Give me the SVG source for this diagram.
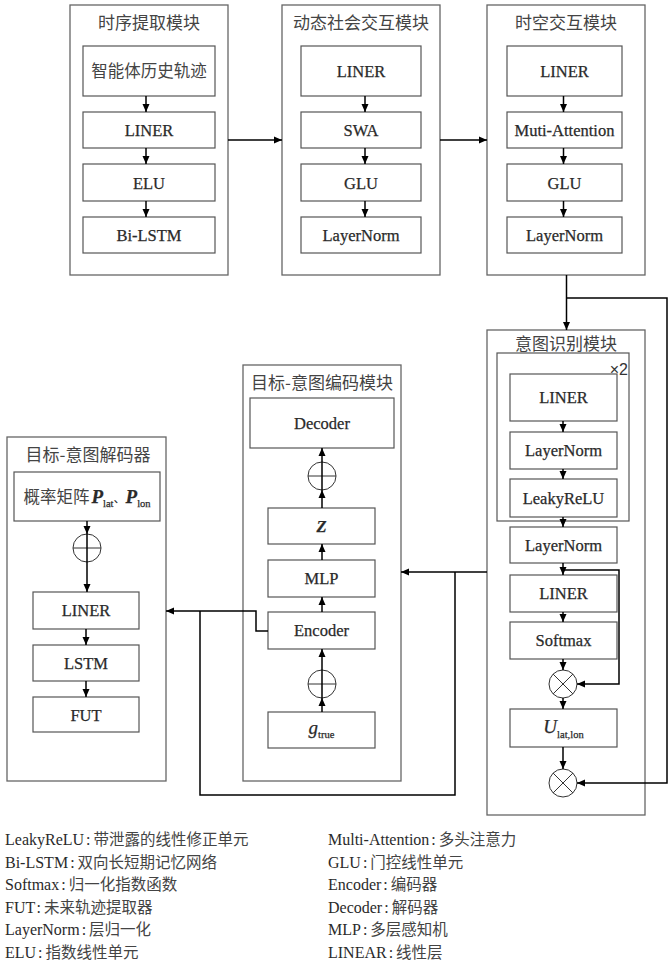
<svg xmlns="http://www.w3.org/2000/svg" width="669" height="963" viewBox="0 0 669 963">
<style>
.outer{fill:#fff;stroke:#666;stroke-width:1.3}
.box{fill:#fff;stroke:#555;stroke-width:1.2}
.t{font-family:"Liberation Serif","Noto Sans CJK SC",serif;font-size:16.5px;fill:#2a2a2a;stroke:#2a2a2a;stroke-width:0.25;text-anchor:middle}
.ti{font-family:"Noto Sans CJK SC","Liberation Sans",sans-serif;font-size:17px;fill:#444;text-anchor:middle}
.cn{font-family:"Noto Sans CJK SC",sans-serif;font-size:16.5px;fill:#444;stroke:none;text-anchor:middle}
.lg{font-family:"Liberation Serif","Noto Sans CJK SC",serif;font-size:16px;fill:#2a2a2a}
.lg tspan.c{font-family:"Noto Sans CJK SC",sans-serif;font-size:15.5px;fill:#444}
.con{fill:none;stroke:#000;stroke-width:1.5}
.op{fill:#fff;stroke:#333;stroke-width:1}
.opl{stroke:#333;stroke-width:1}
</style>
<defs>
<marker id="ah" markerUnits="userSpaceOnUse" markerWidth="8" markerHeight="8" refX="8" refY="4" orient="auto">
<path d="M0,0.5 L8,4 L0,7.5 z" fill="#000"/>
</marker>
</defs>

<g id="module-temporal">
<rect class="outer" x="70" y="5" width="158" height="270"/>
<text class="ti" x="149" y="29">时序提取模块</text>
<rect class="box" x="83" y="46" width="132" height="50"/>
<text class="cn" x="149" y="77">智能体历史轨迹</text>
<rect class="box" x="83" y="112" width="132" height="36"/>
<text class="t" x="149" y="136">LINER</text>
<rect class="box" x="83" y="164" width="132" height="37"/>
<text class="t" x="149" y="188.5">ELU</text>
<rect class="box" x="83" y="217" width="132" height="36"/>
<text class="t" x="149" y="241">Bi-LSTM</text>
</g>

<g id="module-social">
<rect class="outer" x="282" y="5" width="158" height="270"/>
<text class="ti" x="361" y="29">动态社会交互模块</text>
<rect class="box" x="301" y="46" width="120" height="50"/>
<text class="t" x="361" y="77">LINER</text>
<rect class="box" x="301" y="112" width="120" height="36"/>
<text class="t" x="361" y="136">SWA</text>
<rect class="box" x="301" y="164" width="120" height="37"/>
<text class="t" x="361" y="188.5">GLU</text>
<rect class="box" x="301" y="217" width="120" height="36"/>
<text class="t" x="361" y="241">LayerNorm</text>
</g>

<g id="module-spatiotemporal">
<rect class="outer" x="487" y="5" width="158" height="270"/>
<text class="ti" x="566" y="29">时空交互模块</text>
<rect class="box" x="507" y="46" width="115" height="50"/>
<text class="t" x="564.5" y="77">LINER</text>
<rect class="box" x="507" y="112" width="115" height="36"/>
<text class="t" x="564.5" y="136">Muti-Attention</text>
<rect class="box" x="507" y="164" width="115" height="37"/>
<text class="t" x="564.5" y="188.5">GLU</text>
<rect class="box" x="507" y="217" width="115" height="36"/>
<text class="t" x="564.5" y="241">LayerNorm</text>
</g>

<g id="module-intent">
<rect class="outer" x="487" y="330" width="158" height="485"/>
<text class="ti" x="566" y="350">意图识别模块</text>
<rect class="box" x="497" y="353" width="132" height="168" fill="none"/>
<text x="628" y="375" style="font-family:'Liberation Sans',sans-serif;font-size:16px;fill:#333;text-anchor:end">×2</text>
<rect class="box" x="510" y="374" width="107" height="47"/>
<text class="t" x="563.5" y="403">LINER</text>
<rect class="box" x="510" y="432" width="107" height="37"/>
<text class="t" x="563.5" y="456">LayerNorm</text>
<rect class="box" x="510" y="479" width="107" height="38"/>
<text class="t" x="563.5" y="503.5">LeakyReLU</text>
<rect class="box" x="510" y="527" width="107" height="36"/>
<text class="t" x="563.5" y="550.5">LayerNorm</text>
<rect class="box" x="510" y="575" width="107" height="37"/>
<text class="t" x="563.5" y="599">LINER</text>
<rect class="box" x="510" y="622" width="107" height="37"/>
<text class="t" x="563.5" y="646">Softmax</text>
<circle class="op" cx="563" cy="684" r="14"/>
<line class="opl" x1="553.1" y1="674.1" x2="572.9" y2="693.9"/>
<line class="opl" x1="572.9" y1="674.1" x2="553.1" y2="693.9"/>
<rect class="box" x="510" y="709" width="107" height="38"/>
<text class="t" x="563.5" y="733"><tspan style="font-style:italic;font-size:19px">U</tspan><tspan style="font-size:10.5px" dy="5">lat,lon</tspan></text>
<circle class="op" cx="563" cy="783" r="14"/>
<line class="opl" x1="553.1" y1="773.1" x2="572.9" y2="792.9"/>
<line class="opl" x1="572.9" y1="773.1" x2="553.1" y2="792.9"/>
</g>

<g id="module-goal-encoder">
<rect class="outer" x="243" y="365" width="158" height="416"/>
<text class="ti" x="322" y="389">目标-意图编码模块</text>
<rect class="box" x="250" y="398" width="144" height="50"/>
<text class="t" x="322" y="429">Decoder</text>
<circle class="op" cx="322" cy="476" r="14"/>
<line class="opl" x1="308" y1="476" x2="336" y2="476"/>
<rect class="box" x="268" y="508" width="107" height="36"/>
<text class="t" x="321.5" y="532" style="font-style:italic;font-weight:bold">Z</text>
<rect class="box" x="268" y="560" width="107" height="37"/>
<text class="t" x="321.5" y="584">MLP</text>
<rect class="box" x="268" y="612" width="107" height="37"/>
<text class="t" x="321.5" y="636">Encoder</text>
<circle class="op" cx="322" cy="684" r="14"/>
<line class="opl" x1="308" y1="684" x2="336" y2="684"/>
<rect class="box" x="268" y="712" width="107" height="36"/>
<text class="t" x="321.5" y="734"><tspan style="font-style:italic;font-size:19px">g</tspan><tspan style="font-size:10.5px" dy="4">true</tspan></text>
</g>

<g id="module-goal-decoder">
<rect class="outer" x="7" y="437" width="159" height="344"/>
<text class="ti" x="88" y="461">目标-意图解码器</text>
<rect class="box" x="14" y="472" width="146" height="49"/>
<text class="t" x="87" y="503"><tspan style="font-family:'Noto Sans CJK SC',sans-serif;fill:#444;stroke:none">概率矩阵</tspan><tspan style="font-style:italic;font-weight:bold;font-size:19px" dx="2">P</tspan><tspan style="font-size:10.5px" dy="4">lat</tspan><tspan style="font-family:'Noto Sans CJK SC',sans-serif;font-size:12px;stroke:none" dy="-4">、</tspan><tspan style="font-style:italic;font-weight:bold;font-size:19px">P</tspan><tspan style="font-size:10.5px" dy="4">lon</tspan></text>
<circle class="op" cx="87" cy="548" r="14"/>
<line class="opl" x1="73" y1="548" x2="101" y2="548"/>
<rect class="box" x="33" y="592" width="106" height="37"/>
<text class="t" x="86" y="616">LINER</text>
<rect class="box" x="33" y="645" width="106" height="36"/>
<text class="t" x="86" y="669">LSTM</text>
<rect class="box" x="33" y="697" width="106" height="35"/>
<text class="t" x="86" y="720.5">FUT</text>
</g>

<g id="connectors">
<line class="con" x1="146" y1="96" x2="146" y2="112" marker-end="url(#ah)"/>
<line class="con" x1="146" y1="148" x2="146" y2="164" marker-end="url(#ah)"/>
<line class="con" x1="146" y1="201" x2="146" y2="217" marker-end="url(#ah)"/>
<line class="con" x1="365" y1="96" x2="365" y2="112" marker-end="url(#ah)"/>
<line class="con" x1="365" y1="148" x2="365" y2="164" marker-end="url(#ah)"/>
<line class="con" x1="365" y1="201" x2="365" y2="217" marker-end="url(#ah)"/>
<line class="con" x1="563.5" y1="96" x2="563.5" y2="112" marker-end="url(#ah)"/>
<line class="con" x1="563.5" y1="148" x2="563.5" y2="164" marker-end="url(#ah)"/>
<line class="con" x1="563.5" y1="201" x2="563.5" y2="217" marker-end="url(#ah)"/>
<line class="con" x1="228" y1="140" x2="282" y2="140" marker-end="url(#ah)"/>
<line class="con" x1="440" y1="140" x2="487" y2="140" marker-end="url(#ah)"/>
<line class="con" x1="566.5" y1="275" x2="566.5" y2="330" marker-end="url(#ah)"/>
<polyline class="con" points="566.5,298 667,298 667,783 577,783" marker-end="url(#ah)"/>
<line class="con" x1="563" y1="421" x2="563" y2="432" marker-end="url(#ah)"/>
<line class="con" x1="563" y1="469" x2="563" y2="479" marker-end="url(#ah)"/>
<line class="con" x1="563" y1="517" x2="563" y2="527" marker-end="url(#ah)"/>
<line class="con" x1="563" y1="563" x2="563" y2="575" marker-end="url(#ah)"/>
<line class="con" x1="563" y1="612" x2="563" y2="622" marker-end="url(#ah)"/>
<line class="con" x1="563" y1="659" x2="563" y2="670" marker-end="url(#ah)"/>
<line class="con" x1="563" y1="698" x2="563" y2="709" marker-end="url(#ah)"/>
<line class="con" x1="563" y1="747" x2="563" y2="769" marker-end="url(#ah)"/>
<polyline class="con" points="563,570 619,570 619,684 577,684" marker-end="url(#ah)"/>
<line class="con" x1="487" y1="572" x2="401" y2="572" marker-end="url(#ah)"/>
<polyline class="con" points="455,572 455,795 200,795 200,611"/>
<polyline class="con" points="268,631 256,631 256,611 166,611" marker-end="url(#ah)"/>
<line class="con" x1="322" y1="712" x2="322" y2="698" marker-end="url(#ah)"/>
<line class="con" x1="322" y1="670" x2="322" y2="649" marker-end="url(#ah)"/>
<line class="con" x1="322" y1="612" x2="322" y2="597" marker-end="url(#ah)"/>
<line class="con" x1="322" y1="560" x2="322" y2="544" marker-end="url(#ah)"/>
<line class="con" x1="322" y1="508" x2="322" y2="490" marker-end="url(#ah)"/>
<line class="con" x1="322" y1="490" x2="322" y2="462"/>
<line class="con" x1="322" y1="462" x2="322" y2="448" marker-end="url(#ah)"/>
<line class="con" x1="322" y1="698" x2="322" y2="670"/>
<line class="con" x1="87" y1="521" x2="87" y2="534" marker-end="url(#ah)"/>
<line class="con" x1="87" y1="534" x2="87" y2="592" marker-end="url(#ah)"/>
<line class="con" x1="86" y1="629" x2="86" y2="645" marker-end="url(#ah)"/>
<line class="con" x1="86" y1="681" x2="86" y2="697" marker-end="url(#ah)"/>
</g>

<g id="legend">
<text class="lg" x="5" y="845">LeakyReLU<tspan dx="2">:</tspan><tspan class="c" dx="3">带泄露的线性修正单元</tspan></text>
<text class="lg" x="5" y="867.5">Bi-LSTM<tspan dx="2">:</tspan><tspan class="c" dx="3">双向长短期记忆网络</tspan></text>
<text class="lg" x="5" y="890">Softmax<tspan dx="2">:</tspan><tspan class="c" dx="3">归一化指数函数</tspan></text>
<text class="lg" x="5" y="912.5">FUT<tspan dx="2">:</tspan><tspan class="c" dx="3">未来轨迹提取器</tspan></text>
<text class="lg" x="5" y="935">LayerNorm<tspan dx="2">:</tspan><tspan class="c" dx="3">层归一化</tspan></text>
<text class="lg" x="5" y="957.5">ELU<tspan dx="2">:</tspan><tspan class="c" dx="3">指数线性单元</tspan></text>
<text class="lg" x="328" y="845">Multi-Attention<tspan dx="2">:</tspan><tspan class="c" dx="3">多头注意力</tspan></text>
<text class="lg" x="328" y="867.5">GLU<tspan dx="2">:</tspan><tspan class="c" dx="3">门控线性单元</tspan></text>
<text class="lg" x="328" y="890">Encoder<tspan dx="2">:</tspan><tspan class="c" dx="3">编码器</tspan></text>
<text class="lg" x="328" y="912.5">Decoder<tspan dx="2">:</tspan><tspan class="c" dx="3">解码器</tspan></text>
<text class="lg" x="328" y="935">MLP<tspan dx="2">:</tspan><tspan class="c" dx="3">多层感知机</tspan></text>
<text class="lg" x="328" y="957.5">LINEAR<tspan dx="2">:</tspan><tspan class="c" dx="3">线性层</tspan></text>
</g>
</svg>
